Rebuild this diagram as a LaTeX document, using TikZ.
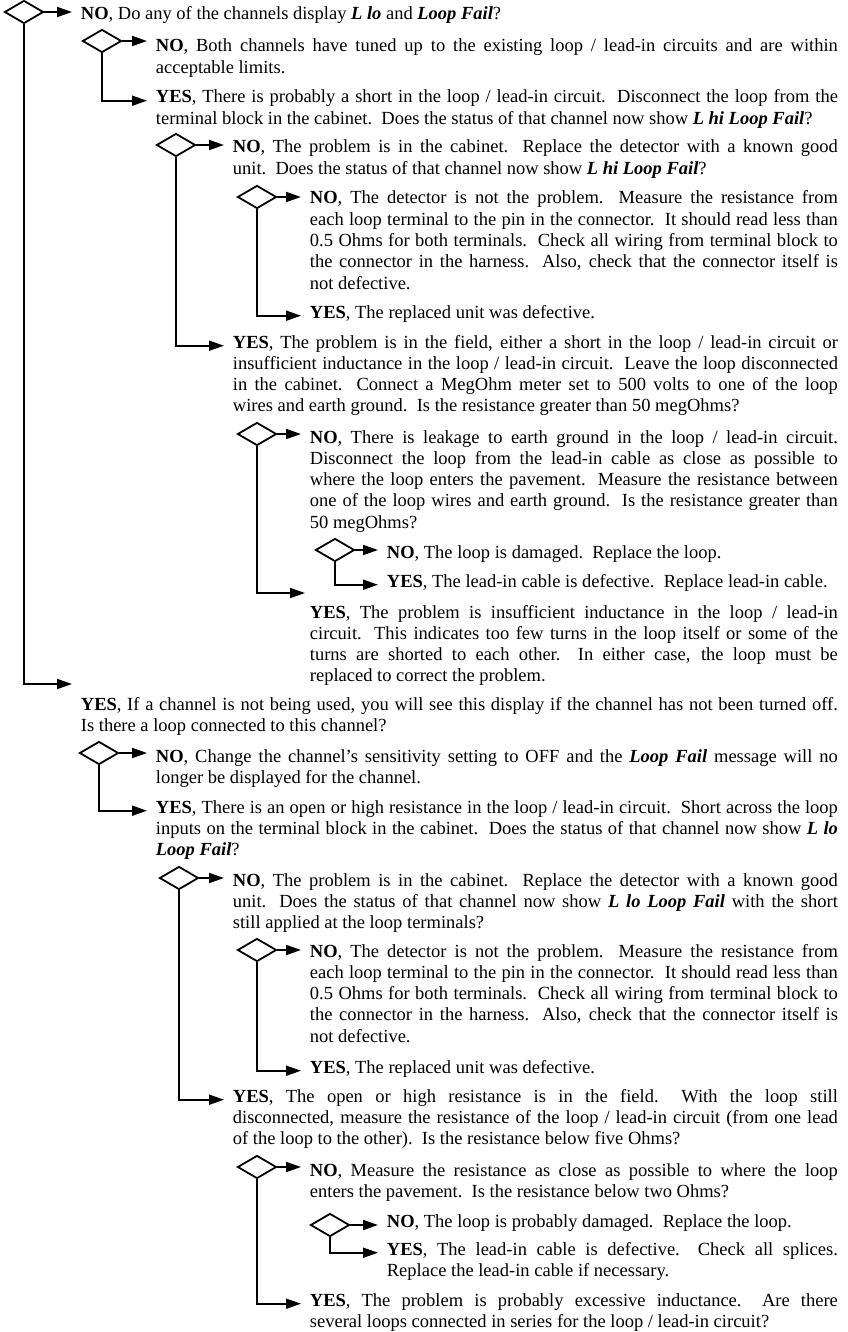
\documentclass[tikz,border=0pt]{standalone}
\usepackage{fontspec}
\setmainfont{Liberation Serif}
\usetikzlibrary{positioning}
\usetikzlibrary{shapes.geometric}
\usetikzlibrary{arrows.meta}
\newcommand{\bi}[1]{\textbf{\textit{#1}}}
\newcommand{\ansfont}{\fontsize{18.5}{21.3}\selectfont\nonfrenchspacing\xspaceskip=9.25pt plus 4pt minus 1.5pt\relax}

\begin{document}
\begin{tikzpicture}[x=1pt,y=-1pt,line width=1.8pt,
  ask/.style={draw,diamond,minimum width=39pt,minimum height=23pt,inner sep=0pt},
  ans/.style={anchor=base west,inner sep=0pt,align=justify,font=\ansfont},
  arr/.style={-{Triangle[length=15pt,width=10pt]},shorten >=8pt}]
  \useasboundingbox (0,0) rectangle (847,1332);

  \node[ask] (q1) at (24,12) {};
  \node[ans,text width=757pt] (a1) at (80,20) {\textbf{NO}, Do any of the channels display \bi{L lo} and \bi{Loop Fail}?};
  \node[ask] (q2) at (102,41) {};
  \node[ans,text width=682pt] (a2) at (155,52) {\textbf{NO}, Both channels have tuned up to the existing loop / lead-in circuits and are within\linebreak acceptable limits.};
  \node[ans,text width=682pt] (a3) at (155,103) {\textbf{YES}, There is probably a short in the loop / lead-in circuit.  Disconnect the loop from the\linebreak terminal block in the cabinet.  Does the status of that channel now show \bi{L hi Loop Fail}?};
  \node[ask] (q3) at (176,145) {};
  \node[ans,text width=605pt] (a4) at (232,153) {\textbf{NO}, The problem is in the cabinet.  Replace the detector with a known good\linebreak unit.  Does the status of that channel now show \bi{L hi Loop Fail}?};
  \node[ask] (q4) at (257,197) {};
  \node[ans,text width=528pt] (a5) at (309,204) {\textbf{NO}, The detector is not the problem.  Measure the resistance from\linebreak each loop terminal to the pin in the connector.  It should read less than\linebreak 0.5 Ohms for both terminals.  Check all wiring from terminal block to\linebreak the connector in the harness.  Also, check that the connector itself is\linebreak not defective.};
  \node[ans,text width=528pt] (a6) at (309,318) {\textbf{YES}, The replaced unit was defective.};
  \node[ans,text width=605pt] (a7) at (232,348) {\textbf{YES}, The problem is in the field, either a short in the loop / lead-in circuit or\linebreak insufficient inductance in the loop / lead-in circuit.  Leave the loop disconnected\linebreak in the cabinet.  Connect a MegOhm meter set to 500 volts to one of the loop\linebreak wires and earth ground.  Is the resistance greater than 50 megOhms?};
  \node[ask] (q5) at (257,434) {};
  \node[ans,text width=528pt] (a8) at (309,443) {\textbf{NO}, There is leakage to earth ground in the loop / lead-in circuit.\linebreak Disconnect the loop from the lead-in cable as close as possible to\linebreak where the loop enters the pavement.  Measure the resistance between\linebreak one of the loop wires and earth ground.  Is the resistance greater than\linebreak 50 megOhms?};
  \node[ask] (q6) at (335,550) {};
  \node[ans,text width=451pt] (a9) at (386,558) {\textbf{NO}, The loop is damaged.  Replace the loop.};
  \node[ans,text width=451pt] (a10) at (386,587) {\textbf{YES}, The lead-in cable is defective.  Replace lead-in cable.};
  \coordinate (e5) at (313,593);
  \node[ans,text width=528pt] (a11) at (309,618) {\textbf{YES}, The problem is insufficient inductance in the loop / lead-in\linebreak circuit.  This indicates too few turns in the loop itself or some of the\linebreak turns are shorted to each other.  In either case, the loop must be\linebreak replaced to correct the problem.};
  \coordinate (e1) at (80,684);
  \node[ans,text width=757pt] (a12) at (80,710) {\textbf{YES}, If a channel is not being used, you will see this display if the channel has not been turned off.\linebreak Is there a loop connected to this channel?};
  \node[ask] (q7) at (99,753) {};
  \node[ans,text width=682pt] (a13) at (155,762) {\textbf{NO}, Change the channel’s sensitivity setting to OFF and the \bi{Loop Fail} message will no\linebreak longer be displayed for the channel.};
  \node[ans,text width=682pt] (a14) at (155,813) {\textbf{YES}, There is an open or high resistance in the loop / lead-in circuit.  Short across the loop\linebreak inputs on the terminal block in the cabinet.  Does the status of that channel now show \bi{L lo}\linebreak \bi{Loop Fail}?};
  \node[ask] (q8) at (179,878) {};
  \node[ans,text width=605pt] (a15) at (232,886) {\textbf{NO}, The problem is in the cabinet.  Replace the detector with a known good\linebreak unit.  Does the status of that channel now show \bi{L lo Loop Fail} with the short\linebreak still applied at the loop terminals?};
  \node[ask] (q9) at (257,950) {};
  \node[ans,text width=528pt] (a16) at (309,957) {\textbf{NO}, The detector is not the problem.  Measure the resistance from\linebreak each loop terminal to the pin in the connector.  It should read less than\linebreak 0.5 Ohms for both terminals.  Check all wiring from terminal block to\linebreak the connector in the harness.  Also, check that the connector itself is\linebreak not defective.};
  \node[ans,text width=528pt] (a17) at (309,1073) {\textbf{YES}, The replaced unit was defective.};
  \node[ans,text width=605pt] (a18) at (232,1102) {\textbf{YES}, The open or high resistance is in the field.  With the loop still\linebreak disconnected, measure the resistance of the loop / lead-in circuit (from one lead\linebreak of the loop to the other).  Is the resistance below five Ohms?};
  \node[ask] (q10) at (257,1167) {};
  \node[ans,text width=528pt] (a19) at (309,1176) {\textbf{NO}, Measure the resistance as close as possible to where the loop\linebreak enters the pavement.  Is the resistance below two Ohms?};
  \node[ask] (q11) at (330,1225) {};
  \node[ans,text width=451pt] (a20) at (386,1227) {\textbf{NO}, The loop is probably damaged.  Replace the loop.};
  \node[ans,text width=451pt] (a21) at (386,1255) {\textbf{YES}, The lead-in cable is defective.  Check all splices.\linebreak Replace the lead-in cable if necessary.};
  \node[ans,text width=528pt] (a22) at (309,1306) {\textbf{YES}, The problem is probably excessive inductance.  Are there\linebreak several loops connected in series for the loop / lead-in circuit?};

  \draw[arr] (q1.east) -- (q1.east -| a1.west);
  \draw[arr] (q1.south) |- (e1);
  \draw[arr] (q2.east) -- (q2.east -| a2.west);
  \draw[arr] (q2.south) |- (a3.mid west);
  \draw[arr] (q3.east) -- (q3.east -| a4.west);
  \draw[arr] (q3.south) |- (a7.mid west);
  \draw[arr] (q4.east) -- (q4.east -| a5.west);
  \draw[arr] (q4.south) |- (a6.mid west);
  \draw[arr] (q5.east) -- (q5.east -| a8.west);
  \draw[arr] (q5.south) |- (e5);
  \draw[arr] (q6.east) -- (q6.east -| a9.west);
  \draw[arr] (q6.south) |- (a10.mid west);
  \draw[arr] (q7.east) -- (q7.east -| a13.west);
  \draw[arr] (q7.south) |- (a14.mid west);
  \draw[arr] (q8.east) -- (q8.east -| a15.west);
  \draw[arr] (q8.south) |- (a18.mid west);
  \draw[arr] (q9.east) -- (q9.east -| a16.west);
  \draw[arr] (q9.south) |- (a17.mid west);
  \draw[arr] (q10.east) -- (q10.east -| a19.west);
  \draw[arr] (q10.south) |- (a22.mid west);
  \draw[arr] (q11.east) -- (q11.east -| a20.west);
  \draw[arr] (q11.south) |- (a21.mid west);
\end{tikzpicture}
\end{document}
